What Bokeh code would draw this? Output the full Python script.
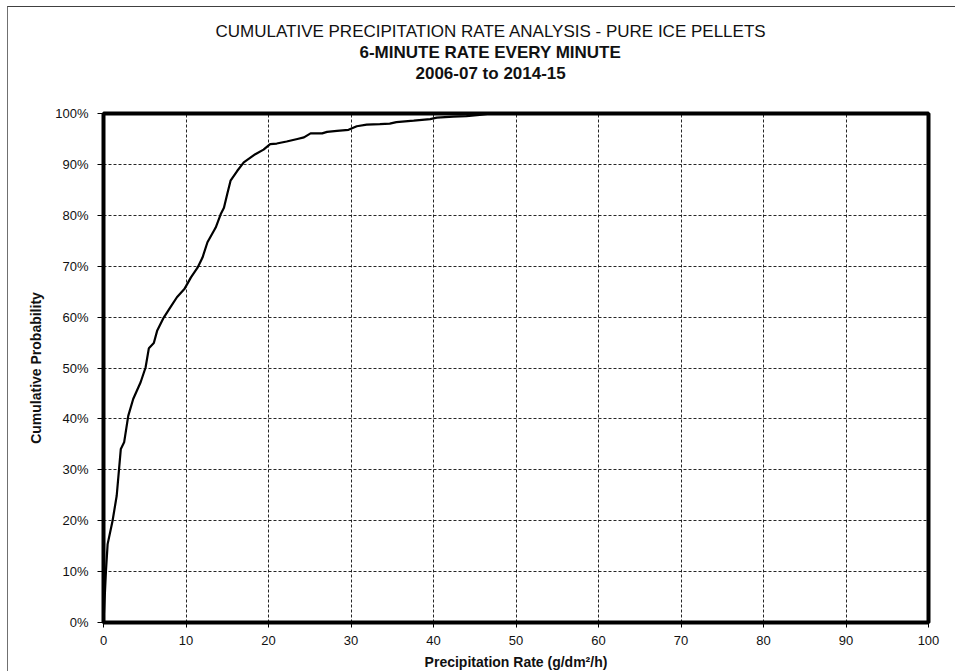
from bokeh.plotting import figure
from bokeh.models import Range1d, Title, FixedTicker, PrintfTickFormatter
from bokeh.embed import file_html
from bokeh.resources import INLINE

# Data
rate = [0, 0.3, 0.5, 1.1, 1.6, 2.1, 2.5, 3.0, 3.6, 4.5,
        5.1, 5.5, 6.1, 6.5, 7.3, 8.1, 8.9, 9.8, 10.6, 11.4,
        12.0, 12.6, 13.6, 14.2, 14.6, 15.0, 15.4, 16.2, 17.0, 18.4,
        19.4, 20.2, 21.0, 22.2, 23.5, 24.3, 25.1, 26.5, 27.1, 28.3,
        29.7, 30.7, 31.9, 33.5, 34.7, 35.5, 37.6, 39.6, 40.4, 42.4,
        44.0, 45.6, 47.0]
cum_prob = [0, 10.2, 15.4, 20.0, 24.9, 34.1, 35.4, 40.6, 43.9, 47.2,
            50.1, 53.9, 54.9, 57.3, 59.9, 61.9, 63.9, 65.5, 67.8, 69.7,
            71.7, 74.7, 77.6, 80.2, 81.5, 84.2, 86.8, 88.7, 90.4, 92.0,
            92.9, 94.0, 94.1, 94.5, 95.0, 95.3, 96.1, 96.1, 96.4, 96.6,
            96.8, 97.5, 97.8, 97.9, 98.0, 98.3, 98.6, 98.9, 99.2, 99.4,
            99.5, 99.7, 100.0]
x_ticks = [0, 10, 20, 30, 40, 50, 60, 70, 80, 90, 100]
y_ticks = [0, 10, 20, 30, 40, 50, 60, 70, 80, 90, 100]
title_lines = ["CUMULATIVE PRECIPITATION RATE ANALYSIS - PURE ICE PELLETS",
               "6-MINUTE RATE EVERY MINUTE",
               "2006-07 to 2014-15"]

FONT = "Liberation Sans"

p = figure(width=948, height=665, output_backend="svg", toolbar_location=None,
           title=None,
           x_range=Range1d(0, 100), y_range=Range1d(0, 100),
           min_border_left=95, min_border_right=28, min_border_top=106,
           min_border_bottom=50)
p.styles = {"border-left": "1px solid #707070", "border-top": "1px solid #404040",
            "margin-left": "7px", "margin-top": "6px"}

p.line(rate, cum_prob, line_color="black", line_width=2.2)

p.outline_line_color = "black"
p.outline_line_width = 4
p.outline_line_alpha = 1.0

for g in (p.xgrid, p.ygrid):
    g.grid_line_color = "black"
    g.grid_line_dash = "3 2"
    g.grid_line_width = 1
    g.grid_line_alpha = 0.85

p.xaxis.ticker = FixedTicker(ticks=x_ticks)
p.yaxis.ticker = FixedTicker(ticks=y_ticks)
p.yaxis.formatter = PrintfTickFormatter(format="%d%%")

for ax in (p.xaxis, p.yaxis):
    ax.axis_line_color = None
    ax.major_tick_line_color = "black"
    ax.major_tick_in = 0
    ax.minor_tick_line_color = None
    ax.major_label_text_font = FONT
    ax.major_label_text_color = "#111111"
    ax.axis_label_text_font = FONT
    ax.axis_label_text_font_style = "bold"
    ax.axis_label_text_color = "#111111"

p.xaxis.major_tick_out = 5
p.xaxis.major_label_text_font_size = "13px"
p.xaxis.major_label_standoff = 8
p.xaxis.axis_label = "Precipitation Rate (g/dm²/h)"
p.xaxis.axis_label_text_font_size = "14px"
p.xaxis.axis_label_standoff = 6

p.yaxis.major_tick_out = 6
p.yaxis.major_label_text_font_size = "13px"
p.yaxis.major_label_standoff = 9
p.yaxis.axis_label = "Cumulative Probability"
p.yaxis.axis_label_text_font_size = "14px"
p.yaxis.axis_label_standoff = 8

# blank spacer between the plot frame and the title block
p.add_layout(Title(text=" ", text_font_size="1px", standoff=28,
                   text_color="#ffffff"), "above")

# Titles: nearest the plot first
title_offsets = [112, 256, 312]
title_style = ["normal", "bold", "bold"]
for i in (2, 1, 0):
    p.add_layout(Title(text=title_lines[i], align="left", offset=title_offsets[i],
                       text_font=FONT, text_font_size="17px",
                       text_font_style=title_style[i], text_color="#111111",
                       standoff=0), "above")

open("out.html", "w").write(file_html(p, INLINE))
